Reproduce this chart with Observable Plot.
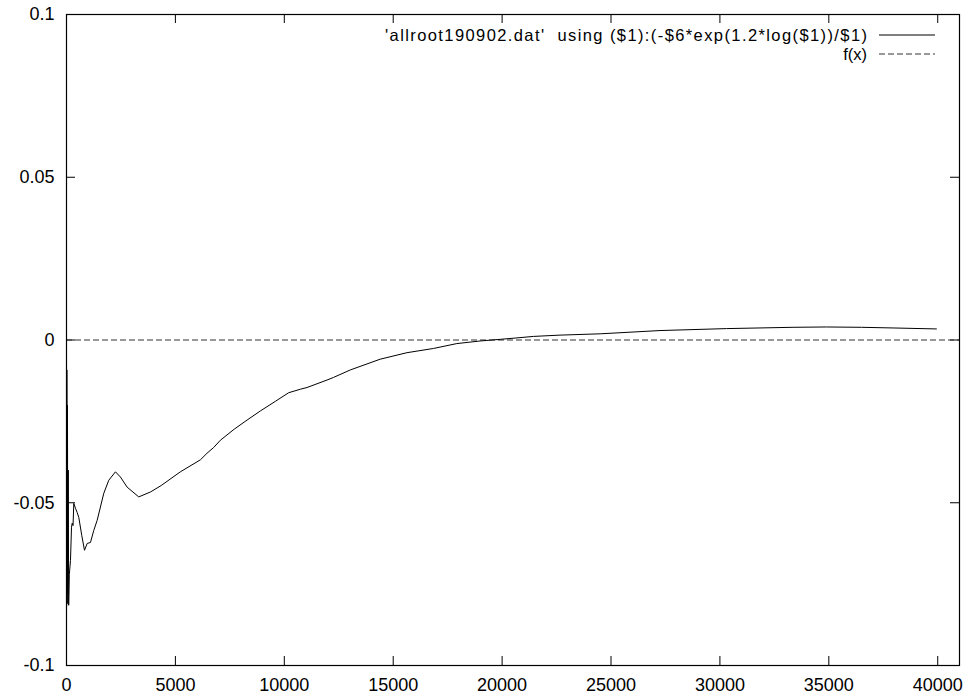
<!DOCTYPE html>
<html>
<head>
<meta charset="utf-8">
<script src="https://cdn.jsdelivr.net/npm/d3@7"></script>
<script src="https://cdn.jsdelivr.net/npm/@observablehq/plot@0.6"></script>
<style>
  html, body { margin: 0; padding: 0; background: #fff; }
  #chart svg { display: block; }
</style>
</head>
<body>
<div id="chart"></div>
<script>
// Scaled root data: column 1 against -$6*exp(1.2*log($1))/$1
const xs = [8, 16, 30, 45, 60, 80, 100, 130, 183, 230, 261, 300, 335, 413, 490, 564, 700, 826, 950, 1101, 1252, 1408, 1711, 1940, 2248, 2477, 2784, 3317, 3853, 4350, 5229, 6150, 6450, 6760, 7064, 7700, 8290, 8900, 9600, 10200, 10750, 11040, 11960, 12260, 13030, 14400, 15630, 16850, 17920, 18990, 19910, 20600, 21440, 22660, 24500, 27250, 30300, 33360, 34890, 36500, 37950, 39940];
const ys = [-0.0815, -0.0092, -0.078, -0.02, -0.081, -0.04, -0.0815, -0.072, -0.0677, -0.0575, -0.0563, -0.057, -0.0502, -0.0517, -0.053, -0.0545, -0.060, -0.0646, -0.0625, -0.0622, -0.0585, -0.0554, -0.0471, -0.0431, -0.0405, -0.0421, -0.0452, -0.0482, -0.0467, -0.0447, -0.0405, -0.0368, -0.0348, -0.0330, -0.0308, -0.0274, -0.0246, -0.0218, -0.0188, -0.0162, -0.0151, -0.0146, -0.0123, -0.0115, -0.0092, -0.0059, -0.0039, -0.0026, -0.0011, -0.0003, 0.0002, 0.0006, 0.0011, 0.0015, 0.0019, 0.0029, 0.0035, 0.0039, 0.0040, 0.0039, 0.0037, 0.0034];

const xTicks = [0, 5000, 10000, 15000, 20000, 25000, 30000, 35000, 40000];
const yTicks = [-0.1, -0.05, 0, 0.05, 0.1];
const xDomain = [0, 41000];
const yDomain = [-0.1, 0.1];
const seriesLabels = ["'allroot190902.dat'  using ($1):(-$6*exp(1.2*log($1))/$1)", "f(x)"];
const fLevel = [0];

const data = xs.map((x, i) => ({x, y: ys[i]}));

const W = 969, H = 699;
const mL = 66, mR = 10, mT = 14, mB = 34;
const tickPx = 9;
// inward tick lengths expressed in data units of each scale
const tkY = (yDomain[1] - yDomain[0]) * tickPx / (H - mT - mB);
const tkX = (xDomain[1] - xDomain[0]) * tickPx / (W - mL - mR);

const font = "'Liberation Sans', Arial, Helvetica, sans-serif";

// key in the top-right corner of the frame
function key(index, scales, values, dims) {
  const g = d3.create("svg:g").attr("font-size", "16.5px");
  const right = dims.width - dims.marginRight;
  const rows = [
    {label: seriesLabels[0], y: dims.marginTop + 21, dash: null, len: 482},
    {label: seriesLabels[1], y: dims.marginTop + 40, dash: "6,3", len: null}
  ];
  for (const r of rows) {
    const t = g.append("text")
      .attr("x", right - 92).attr("y", r.y)
      .attr("text-anchor", "end").attr("dy", "0.35em")
      .attr("fill", "black")
      .style("white-space", "pre")
      .text(r.label);
    if (r.len) t.attr("textLength", r.len).attr("lengthAdjust", "spacing");
    g.append("line")
      .attr("x1", right - 80).attr("x2", right - 24)
      .attr("y1", r.y).attr("y2", r.y)
      .attr("stroke", r.dash ? "#333" : "black")
      .attr("stroke-dasharray", r.dash);
  }
  return g.node();
}

const chart = Plot.plot({
  width: W,
  height: H,
  marginLeft: mL,
  marginRight: mR,
  marginTop: mT,
  marginBottom: mB,
  style: {fontFamily: font, fontSize: "18px", color: "black", background: "white"},
  x: {domain: xDomain, ticks: xTicks},
  y: {domain: yDomain, ticks: yTicks},
  marks: [
    Plot.axisX(xTicks, {tickSize: 0, tickPadding: 13, tickFormat: d => String(d), label: null}),
    Plot.axisY(yTicks, {tickSize: 0, tickPadding: 12, tickFormat: d => String(d), label: null}),
    // inward ticks on all four sides
    Plot.ruleX(xTicks, {x: d => d, y1: yDomain[0], y2: yDomain[0] + tkY, stroke: "black"}),
    Plot.ruleX(xTicks, {x: d => d, y1: yDomain[1] - tkY, y2: yDomain[1], stroke: "black"}),
    Plot.ruleY(yTicks, {y: d => d, x1: xDomain[0], x2: xDomain[0] + tkX, stroke: "black"}),
    Plot.ruleY(yTicks, {y: d => d, x1: xDomain[1] - tkX, x2: xDomain[1], stroke: "black"}),
    // f(x) = 0
    Plot.ruleY(fLevel, {stroke: "#333", strokeDasharray: "6,3", strokeWidth: 1}),
    Plot.line(data, {x: "x", y: "y", stroke: "black", strokeWidth: 1}),
    Plot.frame({stroke: "black", strokeWidth: 1.2}),
    key
  ]
});

document.getElementById("chart").append(chart);
</script>
</body>
</html>
